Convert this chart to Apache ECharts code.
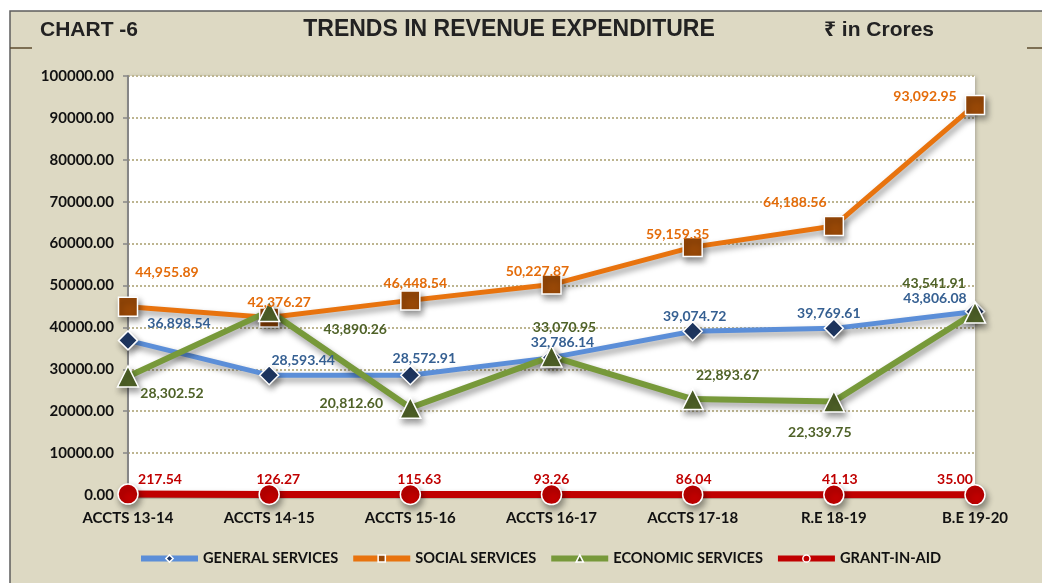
<!DOCTYPE html>
<html>
<head>
<meta charset="utf-8">
<script src="https://cdn.jsdelivr.net/npm/echarts@6/dist/echarts.min.js"></script>
<style>
html,body{margin:0;padding:0;background:#fff;}
#c{width:1042px;height:583px;}
</style>
</head>
<body>
<div id="c"></div>
<script>
// ---- data ----
var categories = ['ACCTS 13-14','ACCTS 14-15','ACCTS 15-16','ACCTS 16-17','ACCTS 17-18','R.E 18-19','B.E 19-20'];
var generalServices = [36898.54, 28593.44, 28572.91, 32786.14, 39074.72, 39769.61, 43806.08];
var socialServices = [44955.89, 42376.27, 46448.54, 50227.87, 59159.35, 64188.56, 93092.95];
var economicServices = [28302.52, 43890.26, 20812.60, 33070.95, 22893.67, 22339.75, 43541.91];
var grantInAid = [217.54, 126.27, 115.63, 93.26, 86.04, 41.13, 35.00];
var seriesNames = ['GENERAL SERVICES','SOCIAL SERVICES','ECONOMIC SERVICES','GRANT-IN-AID'];
var yTicks = {min: 0, max: 100000, interval: 10000};

// ---- layout (label offsets from point centre, px) ----
var offGeneral = [[51,-17],[34,-15],[14,-17],[11,-15],[2,-15],[-5,-15],[-40,-13]];
var offSocial = [[39,-34],[10,-15],[5,-17],[-14,-13],[-15,-13],[-39,-24],[-50,-8]];
var offEconomic = [[44,17],[86,18],[-59,-4],[13,-29],[35,-24],[-14,31],[-41,-29]];
var offGrant = [[32,-15],[9,-15],[9,-15],[0,-15],[1,-15],[6,-15],[-20,-15]];

var fmt = function (v) {
  return Number(v).toLocaleString('en-US', {minimumFractionDigits: 2, maximumFractionDigits: 2});
};
function build(values, offs) {
  return values.map(function (v, i) {
    return {value: v, label: {offset: offs[i]}};
  });
}
var FONT = 'Lato';
var shadow = {shadowColor: 'rgba(0,0,0,0.4)', shadowBlur: 6, shadowOffsetX: 2, shadowOffsetY: 4};

function mk(name, values, offs, lineColor, markColor, labelColor, symbol, size, lw) {
  return {
    name: name,
    type: 'line',
    data: build(values, offs),
    symbol: symbol,
    symbolSize: size,
    showAllSymbol: true,
    lineStyle: Object.assign({color: lineColor, width: lw}, shadow),
    itemStyle: Object.assign({color: markColor, borderColor: '#fff', borderWidth: 1.5}, shadow),
    label: {
      show: true, position: 'inside',
      formatter: function (p) { return fmt(p.value); },
      color: labelColor, fontFamily: FONT, fontWeight: 'bold', fontSize: 14
    },
    emphasis: {disabled: true},
    animation: false
  };
}

var chart = echarts.init(document.getElementById('c'));
var headFont = '"Liberation Sans", "Noto Sans", "DejaVu Sans", sans-serif';
var legendMark = function (c) {
  return {color: c, borderColor: '#fff', borderWidth: 1.5, shadowBlur: 0, shadowOffsetX: 0, shadowOffsetY: 0};
};
chart.setOption({
  animation: false,
  backgroundColor: '#fff',
  graphic: [
    {type: 'rect', z: -100, shape: {x: 10, y: 11, width: 1040, height: 580},
     style: {fill: '#DDD9C3', stroke: '#5E5E5E', lineWidth: 1.5}},
    {type: 'line', z: -90, shape: {x1: 10, y1: 48, x2: 32, y2: 48}, style: {stroke: '#5C4B2E', lineWidth: 1.5}},
    {type: 'line', z: -90, shape: {x1: 1027, y1: 48, x2: 1042, y2: 48}, style: {stroke: '#5C4B2E', lineWidth: 1.5}},
    {type: 'text', x: 40, y: 30, style: {text: 'CHART -6', fill: '#222', font: 'bold 21px ' + headFont, verticalAlign: 'middle', align: 'left'}},
    {type: 'text', x: 509, y: 30, style: {text: 'TRENDS IN REVENUE EXPENDITURE', fill: '#222', font: 'bold 23px ' + headFont, verticalAlign: 'middle', align: 'center'}},
    {type: 'text', x: 824, y: 30, style: {text: '₹ in Crores', fill: '#222', font: 'bold 21px ' + headFont, verticalAlign: 'middle', align: 'left'}}
  ],
  grid: {
    left: 128, right: 67, top: 76, bottom: 88,
    show: true, backgroundColor: '#fff', borderWidth: 0,
    shadowColor: 'rgba(0,0,0,0.25)', shadowBlur: 4, shadowOffsetX: 1, shadowOffsetY: 1
  },
  legend: {
    left: 133, top: 546,
    itemWidth: 57, itemHeight: 9, itemGap: 12,
    lineStyle: {width: 6, shadowBlur: 0, shadowOffsetX: 0, shadowOffsetY: 0},
    textStyle: {fontFamily: FONT, fontWeight: 'bold', fontSize: 14.6, color: '#111'},
    data: [
      {name: seriesNames[0], itemStyle: legendMark('#1F3864')},
      {name: seriesNames[1], itemStyle: legendMark('#984807')},
      {name: seriesNames[2], itemStyle: legendMark('#4F6228')},
      {name: seriesNames[3], itemStyle: legendMark('#C00000')}
    ],
    selectedMode: false
  },
  xAxis: {
    type: 'category',
    data: categories,
    boundaryGap: false,
    axisLine: {show: false},
    axisTick: {show: false},
    axisLabel: {color: '#111', fontFamily: FONT, fontWeight: 'bold', fontSize: 15, margin: 16},
    splitLine: {show: false}
  },
  yAxis: {
    type: 'value',
    min: yTicks.min, max: yTicks.max, interval: yTicks.interval,
    axisLine: {show: true, lineStyle: {color: '#868686', width: 2}},
    axisTick: {show: true, length: 5, lineStyle: {color: '#868686', width: 1.5}},
    axisLabel: {color: '#111', fontFamily: FONT, fontWeight: 'bold', fontSize: 15, margin: 14,
      formatter: function (v) { return v.toFixed(2); }},
    splitLine: {show: true, lineStyle: {color: '#BDB590', type: 'dotted', width: 2}}
  },
  series: [
    mk(seriesNames[0], generalServices, offGeneral, '#5B8ED8', '#1F3864', '#366092', 'diamond', 19, 5),
    mk(seriesNames[1], socialServices, offSocial, '#E8730E', '#984807', '#E46C0A', 'rect', 19, 5),
    mk(seriesNames[2], economicServices, offEconomic, '#77993A', '#4F6228', '#4F6228', 'triangle', 21, 6),
    mk(seriesNames[3], grantInAid, offGrant, '#C00000', '#C00000', '#C00000', 'circle', 20, 7)
  ]
});
</script>
</body>
</html>
